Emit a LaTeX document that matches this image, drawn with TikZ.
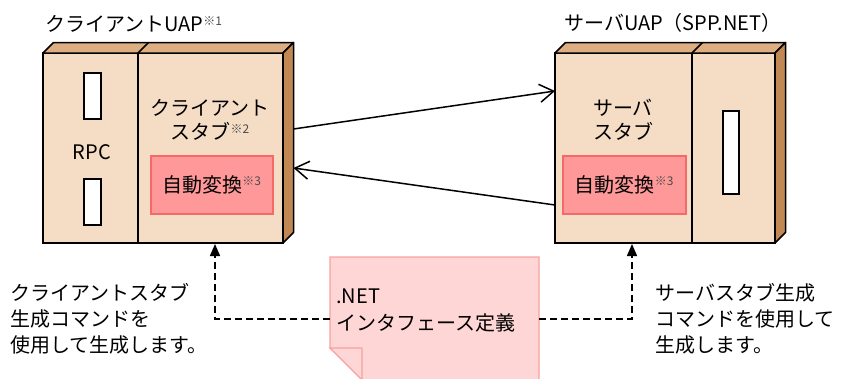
\documentclass[tikz,border=0pt]{standalone}
\usepackage{fontspec}
\setmainfont{Noto Sans CJK JP}
\usetikzlibrary{arrows.meta,calc}
\definecolor{frontc}{RGB}{245,220,196}
\definecolor{topc}{RGB}{221,174,130}
\definecolor{sidec}{RGB}{194,136,84}
\definecolor{convfill}{RGB}{255,153,153}
\definecolor{convdraw}{RGB}{245,105,105}
\definecolor{notefill}{RGB}{255,214,214}
\definecolor{notedraw}{RGB}{250,160,160}
\newcommand\refmark[1]{\raisebox{0.6ex}{\fontsize{12}{12}\selectfont\color{black!70}※#1}}
\tikzset{
  face/.style={draw, fill=frontc, line width=1.5pt, inner sep=0pt, outer sep=0pt},
  slotbox/.style={draw, fill=white, line width=1.5pt, inner sep=0pt},
  convbox/.style={draw=convdraw, fill=convfill, line width=1.5pt, inner sep=0pt},
  lbl/.style={font=\fontsize{20}{24}\selectfont, inner sep=0pt, align=center},
  conn/.style={line width=1.5pt, -{Straight Barb[length=14pt,width=18pt,line width=1.5pt]}},
  dasharr/.style={line width=1.5pt, dash pattern=on 7pt off 4pt, -{Triangle[length=12pt,width=10pt]}}
}
\begin{document}
\begin{tikzpicture}[x=1pt,y=-1pt]
\useasboundingbox (0,0) rectangle (844,378);
\clip (0,0) rectangle (844,378);
% ---- client box
\node[face, minimum width=95pt, minimum height=190pt, anchor=north west] (crpc) at (43,53) {};
\node[face, minimum width=145pt, minimum height=190pt, anchor=north west] (cstub) at (138,53) {};
\draw[line width=1.5pt, fill=topc, line join=round] (crpc.north west) -- ++(10.5,-10.5) -- ($(cstub.north east)+(10.5,-10.5)$) -- (cstub.north east) -- cycle;
\draw[line width=1.5pt] (cstub.north west) -- ++(10.5,-10.5);
\draw[line width=1.5pt, fill=sidec, line join=round] (cstub.north east) -- ++(10.5,-10.5) -- ($(cstub.south east)+(10.5,-10.5)$) -- (cstub.south east) -- cycle;
\node[slotbox, minimum width=17pt, minimum height=46pt, anchor=north west] (slot1) at (83,72) {};
\node[slotbox, minimum width=17pt, minimum height=46pt, anchor=north west] (slot2) at (83,178) {};
\node[lbl] (rpc) at (92,152) {RPC};
\node[lbl, anchor=west] (ctitle) at (45,24) {クライアントUAP\refmark{1}};
\node[lbl] (cstubtxt) at (210,120) {クライアント\\スタブ\refmark{2}};
\node[convbox, minimum width=122pt, minimum height=58pt, anchor=north west] (cconv) at (150,155) {};
\node[lbl] (cconvtxt) at (cconv) {自動変換\refmark{3}};
% ---- server box
\node[face, minimum width=137pt, minimum height=190pt, anchor=north west] (sstub) at (555,53) {};
\node[face, minimum width=83pt, minimum height=190pt, anchor=north west] (sright) at (692,53) {};
\draw[line width=1.5pt, fill=topc, line join=round] (sstub.north west) -- ++(10.5,-10.5) -- ($(sright.north east)+(10.5,-10.5)$) -- (sright.north east) -- cycle;
\draw[line width=1.5pt] (sright.north west) -- ++(10.5,-10.5);
\draw[line width=1.5pt, fill=sidec, line join=round] (sright.north east) -- ++(10.5,-10.5) -- ($(sright.south east)+(10.5,-10.5)$) -- (sright.south east) -- cycle;
\node[slotbox, minimum width=16pt, minimum height=83pt, anchor=north west] (slot3) at (722,110) {};
\node[lbl, anchor=west] (stitle) at (564,23) {サーバUAP（SPP.NET）};
\node[lbl] (sstubtxt) at (623,120) {サーバ\\スタブ};
\node[convbox, minimum width=123pt, minimum height=58pt, anchor=north west] (sconv) at (562,155) {};
\node[lbl] (sconvtxt) at (sconv) {自動変換\refmark{3}};
% ---- connectors between boxes
\coordinate (cout) at (293.5,129);
\coordinate (cin) at (293.5,168);
\coordinate (sin) at (555,91);
\coordinate (sout) at (555,205);
\draw[conn] (cout) -- (sin);
\draw[conn] (sout) -- (cin);
% ---- note
\draw[line width=1.2pt, draw=notedraw, fill=notefill] (330,257) -- (539,257) -- (539,390) -- (362,390) -- (362,378) -- (330,348) -- cycle;
\draw[line width=1.2pt, draw=notedraw, fill=notefill] (330,348) -- (362,348) -- (362,380) -- cycle;
\node[lbl, align=left, anchor=west, font=\fontsize{20}{27}\selectfont] (notetxt) at (336,311) {.NET\\インタフェース定義};
\coordinate (nl) at (330,319);
\coordinate (nr) at (539,319);
\coordinate (ctgt) at (215,244);
\coordinate (stgt) at (632,244);
\draw[dasharr] (nl) -| (ctgt);
\draw[dasharr] (nr) -| (stgt);
% ---- bottom texts
\node[lbl, align=left, anchor=west, font=\fontsize{20}{26}\selectfont] (ltxt) at (10,319) {クライアントスタブ\\生成コマンドを\\使用して生成します。};
\node[lbl, align=left, anchor=west, font=\fontsize{20}{26}\selectfont] (rtxt) at (655,319) {サーバスタブ生成\\コマンドを使用して\\生成します。};
\end{tikzpicture}
\end{document}
